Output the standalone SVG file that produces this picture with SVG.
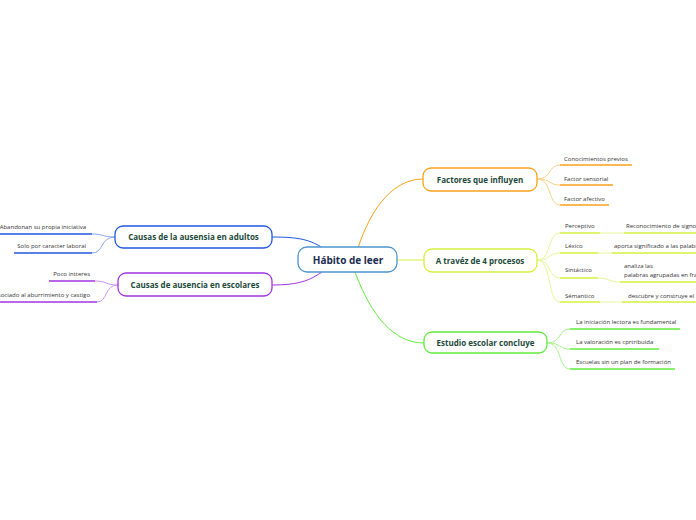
<svg xmlns="http://www.w3.org/2000/svg" width="696" height="520" viewBox="0 0 696 520">
<style>
.nt{font-family:"Open Sans","Noto Sans",sans-serif;font-weight:bold;font-size:8px;fill:#1d4a3a;text-anchor:middle}
.ct{font-family:"Open Sans","Noto Sans",sans-serif;font-weight:bold;font-size:10px;fill:#1a2d4f;text-anchor:middle}
.st{font-family:"Open Sans","Noto Sans",sans-serif;font-size:6px;fill:#333}
.box{fill:#fff;stroke-width:1.3}
.c{fill:none;stroke-width:1}
.u{fill:none;stroke-width:1.5}
</style>
<rect width="696" height="520" fill="#fff"/>
<g id="connectors">
<path class="c" d="M358,248 C372,205 395,179 423,179" stroke="#f9a21b" stroke-width="1.2"/>
<path class="c" d="M397,260 L424,260" stroke="#d6f03c" stroke-width="1.2"/>
<path class="c" d="M355,272 C372,318 395,343 424,343" stroke="#62ec3e" stroke-width="1.2"/>
<path class="c" d="M272,237 C300,237 310,240 323,248" stroke="#2257e0" stroke-width="1.2"/>
<path class="c" d="M272,285 C300,285 310,280 322,272" stroke="#a035e0" stroke-width="1.2"/>
<g stroke="#fcd08a">
<path class="c" d="M537,179 C552,179 548,165 560,165"/>
<path class="c" d="M537,179 C552,179 548,185 560,185"/>
<path class="c" d="M537,179 C552,179 548,205 560,205"/>
</g>
<g stroke="#e6f79a">
<path class="c" d="M537,260 C552,260 547,233 560,233"/>
<path class="c" d="M537,260 C552,260 547,253 560,253"/>
<path class="c" d="M537,260 C552,260 547,278 560,278"/>
<path class="c" d="M537,260 C552,260 547,302 560,302"/>
<path class="c" d="M600,233 L624,233"/>
<path class="c" d="M598,253 L612,253"/>
<path class="c" d="M598,278 C610,278 608,282 620,282"/>
<path class="c" d="M600,302 L622,302"/>
</g>
<g stroke="#a6f58e">
<path class="c" d="M547,343 C562,343 558,329 570,329"/>
<path class="c" d="M547,343 C562,343 558,349 570,349"/>
<path class="c" d="M547,343 C562,343 558,369 570,369"/>
</g>
<g stroke="#8aa8f0">
<path class="c" d="M115,237 C102,237 104,234 92,234"/>
<path class="c" d="M115,237 C100,237 104,253 92,253"/>
</g>
<g stroke="#cf95f0">
<path class="c" d="M118,285 C105,285 107,281 95,281"/>
<path class="c" d="M118,285 C104,285 108,302 97,302"/>
</g>
</g>
<g id="central">
<rect class="box" x="298" y="247" width="99" height="25" rx="9" stroke="#4d96d0" stroke-width="1.5"/>
<text class="ct" x="348" y="263.5">Hábito de leer</text>
</g>
<g id="factores">
<rect class="box" x="423" y="168" width="114" height="23" rx="8" stroke="#f9a21b"/>
<text class="nt" x="480" y="182.5">Factores que influyen</text>
</g>
<g id="f1"><text class="st" x="564" y="161">Conocimientos previos</text><path class="u" d="M560,165 L632,165" stroke="#f9a21b"/></g>
<g id="f2"><text class="st" x="564" y="181">Factor sensorial</text><path class="u" d="M560,185 L613,185" stroke="#f9a21b"/></g>
<g id="f3"><text class="st" x="564" y="201">Factor afectivo</text><path class="u" d="M560,205 L609,205" stroke="#f9a21b"/></g>
<g id="procesos">
<rect class="box" x="424" y="249" width="113" height="23" rx="8" stroke="#d6f03c"/>
<text class="nt" x="480" y="263.5">A travéz de 4 procesos</text>
</g>
<g id="p1"><text class="st" x="565" y="228">Perceptivo</text><path class="u" d="M560,233 L600,233" stroke="#d6f03c"/></g>
<g id="p1a"><text class="st" x="626" y="228">Reconocimiento de signos</text><path class="u" d="M624,233 L696,233" stroke="#d6f03c"/></g>
<g id="p2"><text class="st" x="565" y="248">Léxico</text><path class="u" d="M560,253 L598,253" stroke="#d6f03c"/></g>
<g id="p2a"><text class="st" x="614" y="248">aporta significado a las palabras</text><path class="u" d="M612,253 L696,253" stroke="#d6f03c"/></g>
<g id="p3"><text class="st" x="565" y="272">Sintáctico</text><path class="u" d="M560,278 L598,278" stroke="#d6f03c"/></g>
<g id="p3a"><text class="st" x="624" y="268">analiza las</text><text class="st" x="624" y="277">palabras agrupadas en frases</text><path class="u" d="M620,282 L696,282" stroke="#d6f03c"/></g>
<g id="p4"><text class="st" x="565" y="298">Sémantico</text><path class="u" d="M560,302 L600,302" stroke="#d6f03c"/></g>
<g id="p4a"><text class="st" x="628" y="298">descubre y construye el significado</text><path class="u" d="M622,302 L696,302" stroke="#d6f03c"/></g>
<g id="estudio">
<rect class="box" x="424" y="332" width="123" height="21" rx="8" stroke="#62ec3e"/>
<text class="nt" x="485.5" y="345.5">Estudio escolar concluye</text>
</g>
<g id="e1"><text class="st" x="576" y="324">La iniciación lectora es fundamental</text><path class="u" d="M570,329 L680,329" stroke="#62ec3e"/></g>
<g id="e2"><text class="st" x="576" y="344">La valoración es cprtribuida</text><path class="u" d="M570,349 L659,349" stroke="#62ec3e"/></g>
<g id="e3"><text class="st" x="576" y="364">Escuelas sin un plan de formación</text><path class="u" d="M570,369 L675,369" stroke="#62ec3e"/></g>
<g id="adultos">
<rect class="box" x="115" y="226" width="157" height="22" rx="8" stroke="#2257e0"/>
<text class="nt" x="193.5" y="240">Causas de la ausensia en adultos</text>
</g>
<g id="a1"><text class="st" x="86" y="229" text-anchor="end">Abandonan su propia iniciativa</text><path class="u" d="M0,234 L92,234" stroke="#2257e0"/></g>
<g id="a2"><text class="st" x="86" y="248" text-anchor="end">Solo por caracter laboral</text><path class="u" d="M14,253 L92,253" stroke="#2257e0"/></g>
<g id="escolares">
<rect class="box" x="118" y="273" width="154" height="23" rx="8" stroke="#a035e0"/>
<text class="nt" x="195" y="287.5">Causas de ausencia en escolares</text>
</g>
<g id="s1"><text class="st" x="90" y="276" text-anchor="end">Poco intteres</text><path class="u" d="M49,281 L95,281" stroke="#a035e0"/></g>
<g id="s2"><text class="st" x="90" y="297" text-anchor="end">Asociado al aburrimiento y castigo</text><path class="u" d="M0,302 L97,302" stroke="#a035e0"/></g>
</svg>
